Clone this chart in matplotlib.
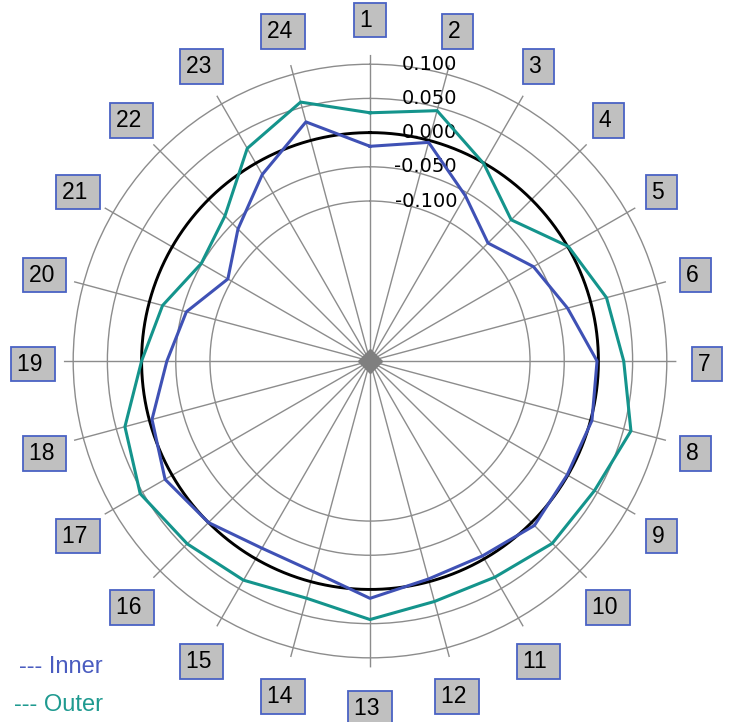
import numpy as np
import matplotlib
matplotlib.use("Agg")
import matplotlib.pyplot as plt

plt.rcParams['font.family'] = ['Liberation Sans', 'DejaVu Sans']

# 24 measuring points round the circumference
points = [str(i) for i in range(1, 25)]
inner = [-0.020, -0.003, -0.055, -0.090, -0.058, -0.035, -0.002, 0.002,
         -0.001, 0.006, -0.005, -0.004, 0.013, -0.015, -0.018, 0.000,
         0.012, -0.004, -0.037, -0.056, -0.094, -0.061, -0.019, 0.028]
outer = [0.029, 0.045, -0.001, -0.042, 0.001, 0.024, 0.037, 0.061,
         0.045, 0.043, 0.031, 0.030, 0.044, 0.025, 0.036, 0.044,
         0.054, 0.037, 0.000, -0.020, -0.049, -0.034, 0.025, 0.058]
rings = [-0.100, -0.050, 0.000, 0.050, 0.100]
ring_labels = ['-0.100', '-0.050', '0.000', '0.050', '0.100']

r_min, r_max = -0.334, 0.114
grid_col = '#8c8c8c'
blue = '#3f51b5'
teal = '#14948c'

fig = plt.figure(figsize=(7.3, 7.22), dpi=100)
ax = fig.add_axes([0.0871, 0.0756, 0.8395, 0.8487], projection='polar')
ax.set_theta_zero_location('N')
ax.set_theta_direction(-1)
ax.set_ylim(r_min, r_max)
ax.spines['polar'].set_visible(False)

theta = np.deg2rad(np.arange(len(points)) * 360 / len(points))
ax.set_xticks(theta)
ax.set_xticklabels([])
ax.set_yticks(rings)
ax.set_yticklabels([])
ax.grid(True, color=grid_col, lw=1.0)

# reference circle at zero
t = np.linspace(0, 2 * np.pi, 400)
ax.plot(t, np.zeros_like(t), color='black', lw=2.1, zorder=3)

th = np.append(theta, theta[0])
ax.plot(th, np.append(inner, inner[0]), color=blue, lw=2.2, zorder=4)
ax.plot(th, np.append(outer, outer[0]), color=teal, lw=2.2, zorder=5)

ax.plot([0], [r_min], marker='D', ms=12, color='#7f7f7f', zorder=6, clip_on=False)

# boxed point numbers, on a slightly tall ellipse round the centre
for a, name in zip(theta, points):
    ax.annotate(name + ' ', xy=(0, r_min),
                xytext=(337 * np.sin(a), 344 * np.cos(a) - 3), textcoords='offset pixels',
                ha='center', va='center', fontsize=16.5,
                bbox=dict(boxstyle='square,pad=0.26', fc='#c0c0c0', ec='#4a62c4', lw=1.3),
                annotation_clip=False)

# ring values along the top spoke
for v, s in zip(rings, ring_labels):
    ax.annotate(s, xy=(0, v), xytext=(87, 0), textcoords='offset pixels',
                ha='right', va='center', fontsize=14, family='DejaVu Sans')

fig.text(103 / 730, 1 - 667 / 722, '--- Inner', color='#4a5cc0', fontsize=17,
         ha='right', va='center')
fig.text(103 / 730, 1 - 705 / 722, '--- Outer', color='#1f9a90', fontsize=17,
         ha='right', va='center')

fig.savefig('out.png', dpi=100, facecolor='white')
